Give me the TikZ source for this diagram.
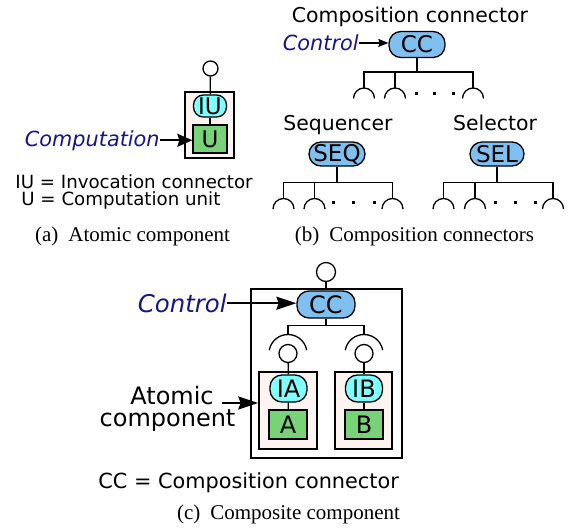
\documentclass[tikz,border=0pt]{standalone}
\usepackage{fontspec}
\setmainfont{DejaVu Sans}
\newfontfamily\capfont{Liberation Serif}
\usetikzlibrary{arrows.meta,positioning,calc}
\definecolor{CtrlBlue}{HTML}{14148C}
\definecolor{InvCyan}{HTML}{80FFFF}
\definecolor{UnitGreen}{HTML}{78D278}
\definecolor{ConnBlue}{HTML}{80C0F0}
\definecolor{CompFill}{HTML}{FDF4F2}
\tikzset{
  compbox/.style={draw=black,fill=CompFill,line width=.75pt,inner sep=0pt},
  outerbox/.style={draw=black,fill=white,line width=.75pt,inner sep=0pt},
  invoc/.style={draw=black,fill=InvCyan,line width=.65pt,rounded corners=5pt,inner sep=0pt,font=\fontsize{11.5}{12}\selectfont},
  unitbox/.style={draw=black,fill=UnitGreen,line width=.65pt,inner sep=0pt,font=\fontsize{11.5}{12}\selectfont},
  conn/.style={draw=black,fill=ConnBlue,line width=.65pt,rounded corners=6pt,inner sep=0pt,font=\fontsize{11.5}{12}\selectfont},
  port/.style={circle,draw=black,fill=white,line width=.65pt,inner sep=0pt},
  flow/.style={-{Stealth[length=7.5pt,width=6.5pt,inset=1pt]},draw=black,line width=.8pt},
  bigflow/.style={-{Stealth[length=10pt,width=6.5pt,inset=1.2pt]},draw=black,line width=.8pt},
  thinflow/.style={-{Stealth[length=5pt,width=4pt,inset=.6pt]},draw=black,line width=.6pt},
  plainline/.style={draw=black,line width=.65pt},
  lbl/.style={inner sep=0pt,font=\fontsize{10.2}{12}\selectfont},
  biglbl/.style={inner sep=0pt,font=\fontsize{12}{13}\selectfont},
  ctrl/.style={inner sep=0pt,text=CtrlBlue,font=\fontsize{10.4}{12}\selectfont\itshape},
  bigctrl/.style={inner sep=0pt,text=CtrlBlue,font=\fontsize{12.2}{13}\selectfont\itshape},
  legend/.style={inner sep=0pt,font=\fontsize{9.1}{10}\selectfont},
  captext/.style={inner sep=0pt,font=\capfont\fontsize{10.5}{12}\selectfont}
}

\begin{document}
\begin{tikzpicture}[x=.5pt,y=-.5pt]
      \useasboundingbox (0,0) rectangle (568,531);
      % (a) atomic component
      \node[compbox,minimum width=24.5pt,minimum height=33pt] (atomic) at (209.5,125) {};
      \node[port,minimum size=7.5pt] (topa) at (210.5,68.5) {};
      \node[invoc,minimum width=16.5pt,minimum height=11pt] (iu) at (210,106) {IU};
      \node[unitbox,minimum width=17pt,minimum height=14pt] (u) at (210,139) {U};
      \node[ctrl,anchor=base east] (comp) at (160,146) {Computation};
      \draw[plainline] (topa) -- (iu);
      \draw[plainline] (iu) -- (u);
      \draw[flow] (comp.east) -- (comp.east -| u.west);
      \node[legend,anchor=base west] (legiu) at (15,188.3) {IU = Invocation connector};
      \node[legend,anchor=base west] (legu) at (21,205.7) {U = Computation unit};
      \node[captext,anchor=base] (capa) at (132.5,241) {(a)\hspace{5pt}Atomic component};

      % (b) composition connectors
      \node[lbl,anchor=base] (cctitle) at (410,22.7) {Composition connector};
      \node[conn,minimum width=28pt,minimum height=13pt] (ccb) at (417,44.5) {CC};
      \node[ctrl,anchor=base east] (ctrlb) at (359,50.7) {Control};
      \draw[thinflow] (ctrlb.east) -- (ctrlb.east -| ccb.west);
      \coordinate (ccbj) at (417,72);
      \coordinate (sb1) at (364,88);
      \coordinate (sb2) at (395,88);
      \coordinate (sb3) at (473,88);
      \draw[plainline] (ccb) -- (ccbj);
      \draw[plainline] (sb1) |- (ccbj);
      \draw[plainline] (sb2) |- (ccbj);
      \draw[plainline] (sb3) |- (ccbj);
      \draw[plainline] (sb1) arc[start angle=90,end angle=0,radius=5.25pt] (sb1) arc[start angle=90,end angle=180,radius=5.25pt];
      \draw[plainline] (sb2) arc[start angle=90,end angle=0,radius=5.25pt] (sb2) arc[start angle=90,end angle=180,radius=5.25pt];
      \draw[plainline] (sb3) arc[start angle=90,end angle=0,radius=5.25pt] (sb3) arc[start angle=90,end angle=180,radius=5.25pt];
      \fill (414.5,91.5) rectangle ++(3,3);
      \fill (432.5,91.5) rectangle ++(3,3);
      \fill (451.5,91.5) rectangle ++(3,3);

      \node[lbl,anchor=base] (seqtitle) at (338,130.7) {Sequencer};
      \node[conn,minimum width=28pt,minimum height=12pt] (seq) at (337,154) {SEQ};
      \coordinate (seqj) at (337,182.5);
      \coordinate (sq1) at (283.5,198.5);
      \coordinate (sq2) at (314.5,198.5);
      \coordinate (sq3) at (392.5,198.5);
      \draw[plainline] (seq) -- (seqj);
      \draw[plainline] (sq1) |- (seqj);
      \draw[plainline] (sq2) |- (seqj);
      \draw[plainline] (sq3) |- (seqj);
      \draw[plainline] (sq1) arc[start angle=90,end angle=0,radius=5.25pt] (sq1) arc[start angle=90,end angle=180,radius=5.25pt];
      \draw[plainline] (sq2) arc[start angle=90,end angle=0,radius=5.25pt] (sq2) arc[start angle=90,end angle=180,radius=5.25pt];
      \draw[plainline] (sq3) arc[start angle=90,end angle=0,radius=5.25pt] (sq3) arc[start angle=90,end angle=180,radius=5.25pt];
      \fill (331.8,200.5) rectangle ++(3,3);
      \fill (351.8,200.5) rectangle ++(3,3);
      \fill (372.8,200.5) rectangle ++(3,3);

      \node[lbl,anchor=base] (seltitle) at (495,130.7) {Selector};
      \node[conn,minimum width=27pt,minimum height=12pt] (sel) at (497,154) {SEL};
      \coordinate (selj) at (497,182.5);
      \coordinate (sl1) at (443.5,198.5);
      \coordinate (sl2) at (475,198.5);
      \coordinate (sl3) at (553,198.5);
      \draw[plainline] (sel) -- (selj);
      \draw[plainline] (sl1) |- (selj);
      \draw[plainline] (sl2) |- (selj);
      \draw[plainline] (sl3) |- (selj);
      \draw[plainline] (sl1) arc[start angle=90,end angle=0,radius=5.25pt] (sl1) arc[start angle=90,end angle=180,radius=5.25pt];
      \draw[plainline] (sl2) arc[start angle=90,end angle=0,radius=5.25pt] (sl2) arc[start angle=90,end angle=180,radius=5.25pt];
      \draw[plainline] (sl3) arc[start angle=90,end angle=0,radius=5.25pt] (sl3) arc[start angle=90,end angle=180,radius=5.25pt];
      \fill (493.5,200.5) rectangle ++(3,3);
      \fill (513.5,200.5) rectangle ++(3,3);
      \fill (533.5,200.5) rectangle ++(3,3);
      \node[captext,anchor=base] (capb) at (414.5,241) {(b)\hspace{5pt}Composition connectors};

      % (c) composite component
      \node[outerbox,minimum width=75.5pt,minimum height=84.5pt] (composite) at (326.5,373.5) {};
      \node[compbox,minimum width=29pt,minimum height=38.5pt] (boxa) at (288,410.5) {};
      \node[compbox,minimum width=28.5pt,minimum height=38.5pt] (boxb) at (363.5,410.5) {};
      \node[port,minimum size=9.5pt] (topc) at (326,272) {};
      \node[conn,minimum width=29pt,minimum height=13.5pt,font=\fontsize{12}{13}\selectfont] (ccc) at (326,304.5) {CC};
      \node[bigctrl,anchor=base east] (ctrlc) at (227,312.3) {Control};
      \draw[plainline] (topc) -- (ccc);
      \draw[bigflow] (ctrlc.east) -- (ctrlc.east -| ccc.west);
      \coordinate (cccj) at (326,325.5);
      \coordinate (sa) at (288,334.5);
      \coordinate (sbb) at (364,334.5);
      \draw[plainline] (ccc) -- (cccj);
      \draw[plainline] (sa) |- (cccj);
      \draw[plainline] (sbb) |- (cccj);
      \node[port,minimum size=9pt] (porta) at (288,353.5) {};
      \node[port,minimum size=9pt] (portb) at (364,353.5) {};
      \draw[plainline] (porta) ++(10:9.5pt) arc[start angle=10,end angle=170,radius=9.5pt];
      \draw[plainline] (portb) ++(10:9.5pt) arc[start angle=10,end angle=170,radius=9.5pt];
      \node[invoc,minimum width=18.5pt,minimum height=13.5pt,rounded corners=6pt,font=\fontsize{12}{13}\selectfont] (ia) at (288.5,388.5) {IA};
      \node[unitbox,minimum width=19pt,minimum height=14.5pt,font=\fontsize{12}{13}\selectfont] (ua) at (288,424.5) {A};
      \node[invoc,minimum width=18.5pt,minimum height=13.5pt,rounded corners=6pt,font=\fontsize{12}{13}\selectfont] (ib) at (364,388.5) {IB};
      \node[unitbox,minimum width=19pt,minimum height=14.5pt,font=\fontsize{12}{13}\selectfont] (ub) at (364,424.5) {B};
      \draw[plainline] (porta) -- (ia);
      \draw[plainline] (ia) -- (ua);
      \draw[plainline] (portb) -- (ib);
      \draw[plainline] (ib) -- (ub);
      \node[biglbl,anchor=base] (atomic1) at (172,404) {Atomic};
      \node[biglbl,anchor=base] (atomic2) at (167.5,426.7) {component};
      \coordinate (atomtail) at (222,403);
      \draw[bigflow] (atomtail) -- (atomtail -| boxa.west);
      \node[lbl,font=\fontsize{10.4}{12}\selectfont,anchor=base west] (legcc) at (98,488.3) {CC = Composition connector};
      \node[captext,anchor=base] (capc) at (288.5,519.3) {(c)\hspace{5pt}Composite component};
    \end{tikzpicture}
\end{document}
